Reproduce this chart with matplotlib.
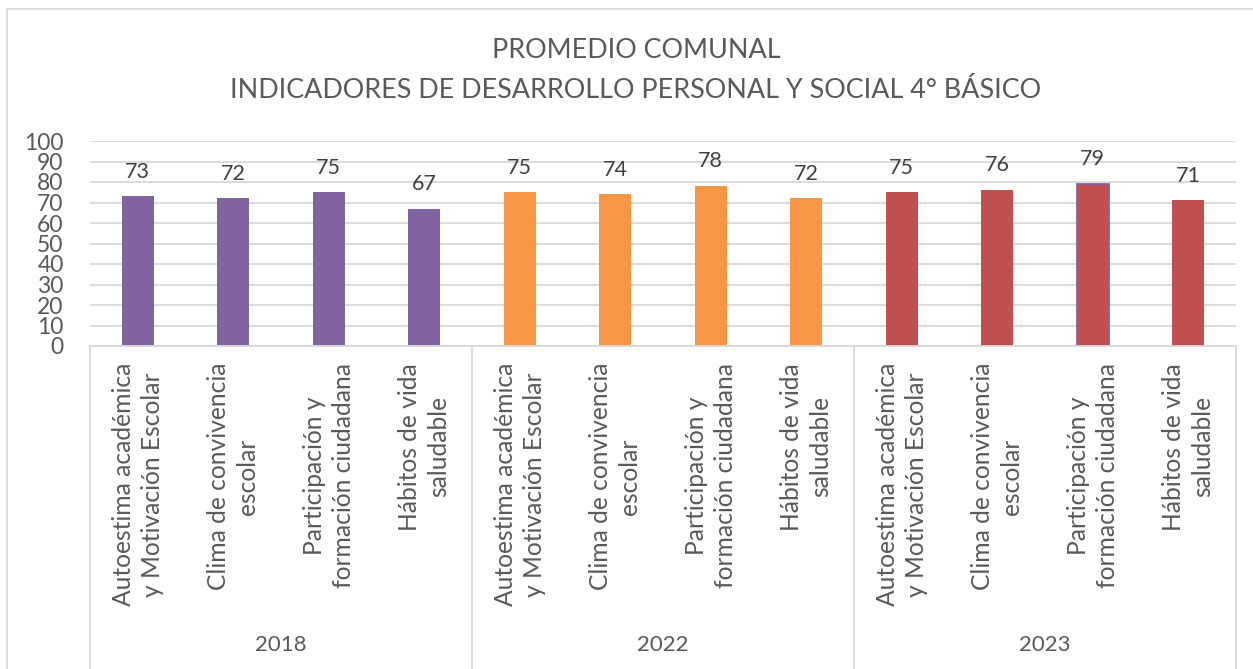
import matplotlib
matplotlib.use("Agg")
import matplotlib.pyplot as plt
import matplotlib.transforms as mtransforms
from matplotlib.lines import Line2D

plt.rcParams['font.family'] = ['Lato', 'DejaVu Sans']

# Data
years = ["2018", "2022", "2023"]
indicators = [
    "Autoestima académica\ny Motivación Escolar",
    "Clima de convivencia\nescolar",
    "Participación y\nformación ciudadana",
    "Hábitos de vida\nsaludable",
]
values_2018 = [73, 72, 75, 67]
values_2022 = [75, 74, 78, 72]
values_2023 = [75, 76, 79, 71]
year_colors = ["#8064A2", "#F79646", "#C0504D"]
title_lines = ["PROMEDIO COMUNAL",
               "INDICADORES DE DESARROLLO PERSONAL Y SOCIAL 4° BÁSICO"]

series = [values_2018, values_2022, values_2023]

W, H = 1253, 669
fig = plt.figure(figsize=(W / 100, H / 100), dpi=100)
fig.patch.set_facecolor("white")

ax_left, ax_right, ax_top, ax_bottom = 90, 1236, 141, 346
ax = fig.add_axes([ax_left / W, 1 - ax_bottom / H,
                   (ax_right - ax_left) / W, (ax_bottom - ax_top) / H])

grid_c = "#D9D9D9"
text_c = "#595959"
label_c = "#404040"

n_ind = len(indicators)
pos = 0
for gi, (vals, col) in enumerate(zip(series, year_colors)):
    xs = list(range(pos, pos + n_ind))
    bars = ax.bar(xs, vals, width=0.33, color=col, zorder=3)
    if gi == 2:
        bars[2].set_edgecolor("#8064A2")
        bars[2].set_linewidth(1.3)
    for x, v in zip(xs, vals):
        ax.annotate(f"{v}", xy=(x, v), xytext=(0, 13.5), textcoords="offset points",
                    ha="center", va="baseline", fontsize=15.5, color=label_c)
    pos += n_ind

n_total = pos
ax.set_xlim(-0.5, n_total - 0.5)
ax.set_ylim(0, 100)
ax.set_yticks(range(0, 101, 10))
ax.tick_params(axis="y", length=0, pad=19, labelsize=16.5, labelcolor=text_c)
ax.set_xticks([])
ax.grid(axis="y", color=grid_c, linewidth=1.3, zorder=0)
for s in ["left", "right", "top"]:
    ax.spines[s].set_visible(False)
ax.spines["bottom"].set_color(grid_c)
ax.spines["bottom"].set_linewidth(1.3)
ax.spines["bottom"].set_zorder(4)

trans = mtransforms.blended_transform_factory(ax.transData, ax.transAxes)
axh = ax_bottom - ax_top

# Group separators of the two-level category axis
for b in range(0, n_total + 1, n_ind):
    ax.add_line(Line2D([b - 0.5, b - 0.5], [0, -(H - ax_bottom) / axh],
                       transform=trans, color=grid_c, linewidth=1.3, clip_on=False))

# Indicator labels
for i in range(n_total):
    ax.text(i, -(363 - ax_bottom) / axh, indicators[i % n_ind], transform=trans,
            rotation=90, ha="center", va="top", multialignment="center",
            fontsize=17.7, color=text_c, linespacing=1.33)

# Year labels
for gi, y in enumerate(years):
    cx = gi * n_ind + (n_ind - 1) / 2
    ax.text(cx, -(645 - ax_bottom) / axh, y, transform=trans,
            ha="center", va="center", fontsize=16, color=text_c)

# Title
title_x = 636 / W
fig.text(title_x, 1 - 50 / H, title_lines[0], ha="center", va="center",
         fontsize=19.4, color=text_c)
fig.text(title_x, 1 - 90 / H, title_lines[1], ha="center", va="center",
         fontsize=19.4, color=text_c)

# Chart-area border
fig.add_artist(Line2D([7 / W, 1], [1 - 9 / H, 1 - 9 / H], transform=fig.transFigure,
                      color=grid_c, linewidth=1.3))
fig.add_artist(Line2D([7 / W, 7 / W], [0, 1 - 9 / H], transform=fig.transFigure,
                      color=grid_c, linewidth=1.3))

fig.savefig("out.png", dpi=100)
